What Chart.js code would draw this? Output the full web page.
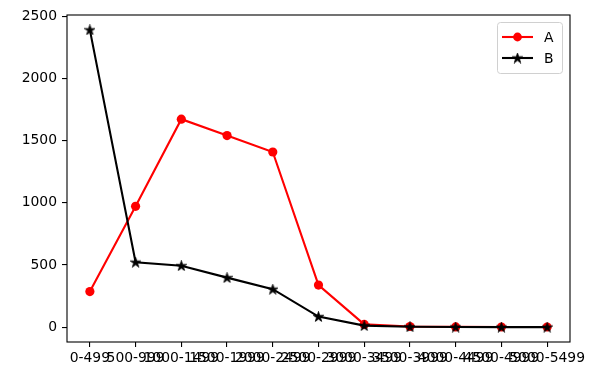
<!DOCTYPE html>
<html><head><meta charset="utf-8">
<script src="https://cdn.jsdelivr.net/npm/chart.js@4/dist/chart.umd.min.js"></script>
<style>html,body{margin:0;padding:0;background:#fff}#wrap{width:602px;height:381px}</style>
</head><body><div id="wrap"><canvas id="c" width="602" height="381"></canvas></div>
<script>
const categories = ["0-499","500-999","1000-1499","1500-1999","2000-2499","2500-2999","3000-3499","3500-3999","4000-4499","4500-4999","5000-5499"];
const seriesA = [286, 971, 1672, 1540, 1408, 338, 22, 5, 2, 1, 1];
const seriesB = [2390, 522, 494, 398, 305, 85, 12, 3, 1, 0, 0];
const yTicks = [0, 500, 1000, 1500, 2000, 2500];

function starCanvas(size, color){
  const c = document.createElement('canvas'); c.width = size; c.height = size;
  const g = c.getContext('2d'); const cx=size/2, cy=size/2+0.4, R=size/2, r=R*0.38;
  g.beginPath();
  for(let i=0;i<10;i++){const a=-Math.PI/2+i*Math.PI/5; const rr=i%2?r:R; g.lineTo(cx+rr*Math.cos(a), cy+rr*Math.sin(a));}
  g.closePath(); g.fillStyle=color; g.fill(); g.strokeStyle=color; g.lineWidth=0.8; g.stroke();
  return c;
}
const star = starCanvas(11, '#000');
const FONT = {family:'"DejaVu Sans"', size:13.9};

const frame = {id:'frame', afterDraw(ch){
  const a=ch.chartArea, g=ch.ctx; g.save(); g.strokeStyle='#000'; g.lineWidth=1.1;
  g.strokeRect(a.left, a.top, a.right-a.left, a.bottom-a.top);
  const lx=497, ly=22, lw=65, lh=51;
  g.fillStyle='rgba(255,255,255,0.8)'; g.strokeStyle='#d0d0d0'; g.lineWidth=1;
  g.beginPath(); g.roundRect(lx+0.5, ly+0.5, lw, lh, 3); g.fill(); g.stroke();
  ch.data.datasets.forEach((ds,i)=>{
    const y = 37 + i*21;
    g.strokeStyle=ds.borderColor; g.lineWidth=2.1; g.beginPath(); g.moveTo(502,y); g.lineTo(533,y); g.stroke();
    if(i===0){g.fillStyle=ds.borderColor; g.beginPath(); g.arc(517.5,y,4.4,0,Math.PI*2); g.fill();}
    else { g.drawImage(star, 517.5-5.5, y-5.5); }
    g.fillStyle='#000'; g.font='13.9px "DejaVu Sans"'; g.textBaseline='middle'; g.textAlign='left';
    g.fillText(ds.label, 544, y+1);
  });
  g.restore();
}};

new Chart(document.getElementById('c'), {
  type:'line',
  data:{labels:categories, datasets:[
    {label:'A', data:seriesA, borderColor:'#ff0000', backgroundColor:'#ff0000', borderWidth:2.1, pointRadius:4.6, pointHoverRadius:4.6, pointStyle:'circle', pointBorderWidth:0, tension:0, order:1},
    {label:'B', data:seriesB, borderColor:'#000000', backgroundColor:'#000000', borderWidth:2.1, pointStyle:star, pointRadius:5.5, pointBorderWidth:0, tension:0, order:0}
  ]},
  options:{
    responsive:false, animation:false, devicePixelRatio:1,
    layout:{padding:{top:15, right:32, left:0, bottom:0}},
    plugins:{legend:{display:false}, tooltip:{enabled:false}},
    scales:{
      x:{offset:true, grid:{display:true, drawOnChartArea:false, drawTicks:true, tickLength:5, color:'#000', lineWidth:1.1},
         border:{display:false},
         ticks:{autoSkip:false, maxRotation:0, minRotation:0, color:'#000', font:FONT, padding:3},
         afterFit(s){s.height=39;}},
      y:{min:-119.5, max:2509.5,
         afterBuildTicks(s){s.ticks = yTicks.map(v=>({value:v}));},
         grid:{display:true, drawOnChartArea:false, drawTicks:true, tickLength:5, color:'#000', lineWidth:1.1},
         border:{display:false},
         ticks:{color:'#000', font:FONT, padding:5, callback:(v)=>String(v)},
         afterFit(s){s.width=67;}}
    }
  },
  plugins:[frame]
});
</script></body></html>
